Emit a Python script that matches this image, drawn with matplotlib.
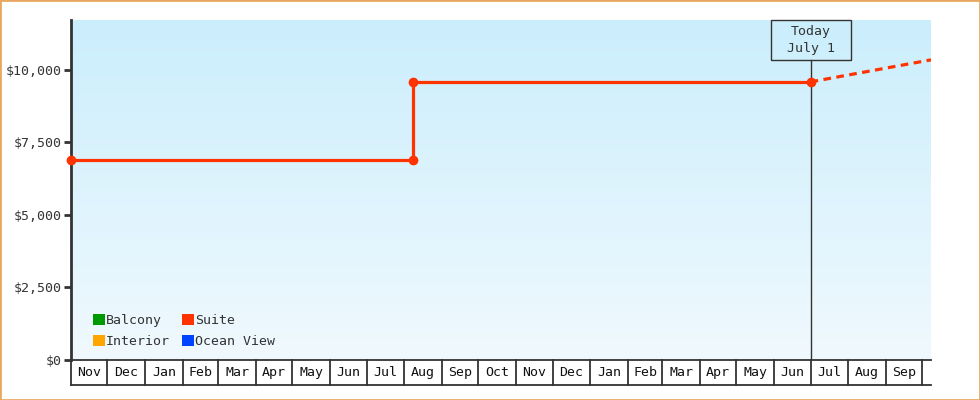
import numpy as np
import pandas as pd
import matplotlib
matplotlib.use("Agg")
import matplotlib.pyplot as plt
import matplotlib.dates as mdates
import matplotlib.transforms as mtransforms
from matplotlib.patches import Rectangle, Patch

# data
suite_dates = ["2023-11-01", "2024-08-08", "2024-08-08", "2025-07-01"]
suite_prices = [6900, 6900, 9590, 9590]
suite_marker_dates = ["2023-11-01", "2024-08-08", "2024-08-08", "2025-07-01"]
suite_marker_prices = [6900, 6900, 9590, 9590]
forecast_dates = ["2025-07-01", "2025-10-08"]
forecast_prices = [9590, 10350]
today = "2025-07-01"
today_label = "Today\nJuly 1"
x_start, x_end = "2023-11-01", "2025-10-08"
month_labels = ["Nov", "Dec", "Jan", "Feb", "Mar", "Apr", "May", "Jun", "Jul", "Aug",
                "Sep", "Oct", "Nov", "Dec", "Jan", "Feb", "Mar", "Apr", "May", "Jun",
                "Jul", "Aug", "Sep"]
y_ticks = [0, 2500, 5000, 7500, 10000]
legend_names = ["Balcony", "Interior", "Suite", "Ocean View"]
legend_colors = ["#009900", "#ffa500", "#ff3300", "#0044ff"]

font = "DejaVu Sans Mono"
ink = "#333333"
red = "#ff3300"

fig = plt.figure(figsize=(9.8, 4), dpi=100)
ax = fig.add_axes([71 / 980, 40 / 400, 860 / 980, 340 / 400])

xs = mdates.date2num(pd.to_datetime(x_start))
xe = mdates.date2num(pd.to_datetime(x_end))
ymax = 11724

# gradient background, light blue at top fading to near white
grad = np.linspace(0, 1, 256).reshape(-1, 1)
top = np.array([203, 238, 252]) / 255
bot = np.array([240, 249, 254]) / 255
img = top + (bot - top) * grad[:, :, None]
ax.imshow(img, extent=[xs, xe, 0, ymax], aspect="auto", zorder=0, origin="upper")
ax.set_xlim(xs, xe)
ax.set_ylim(0, ymax)

# suite line
ax.plot(pd.to_datetime(suite_dates), suite_prices, color=red, lw=2.3, zorder=3,
        solid_capstyle="butt")
ax.plot(pd.to_datetime(suite_marker_dates), suite_marker_prices, "o", color=red,
        ms=6, zorder=4, clip_on=False)
ax.plot(pd.to_datetime(forecast_dates), forecast_prices, color=red, lw=2.3,
        ls=(0, (2.4, 1.7)), zorder=3)

# today marker
blend = mtransforms.blended_transform_factory(ax.transData, ax.transAxes)
td = mdates.date2num(pd.to_datetime(today))
half_w = 40 / (860 / (xe - xs))
box_h = 40 / 340
ax.add_patch(Rectangle((td - half_w, 1 - box_h), 2 * half_w, box_h, transform=blend,
                       fill=False, edgecolor=ink, lw=1, zorder=5, clip_on=False))
ax.plot([td, td], [0, 1 - box_h], transform=blend, color=ink, lw=1, zorder=2)
ax.text(td, 1 - box_h / 2, today_label, transform=blend, ha="center", va="center",
        fontfamily=font, fontsize=9.5, color=ink, linespacing=1.35, zorder=6)

# spines and y ticks
for s in ["top", "right", "bottom"]:
    ax.spines[s].set_visible(False)
ax.spines["left"].set_color(ink)
ax.spines["left"].set_linewidth(2)
ax.set_yticks(y_ticks)
ax.set_yticklabels(["${:,}".format(v) for v in y_ticks], fontfamily=font,
                   fontsize=9.5, color=ink)
ax.tick_params(axis="y", length=5, width=2, color=ink, pad=2)
ax.set_xticks([])

# month boxes under the axis
row_h = 25 / 340
bounds = pd.date_range("2023-11-01", periods=len(month_labels) + 1, freq="MS")
bnums = mdates.date2num(bounds)
ax.plot([xs, xe], [0, 0], transform=blend, color=ink, lw=1.3, clip_on=False, zorder=5)
ax.plot([xs, xe], [-row_h, -row_h], transform=blend, color=ink, lw=1.3, clip_on=False)
for b in bnums:
    if b <= xe:
        ax.plot([b, b], [0, -row_h], transform=blend, color=ink, lw=1.3, clip_on=False)
for i, lab in enumerate(month_labels):
    ax.text((bnums[i] + bnums[i + 1]) / 2, -row_h / 2, lab, transform=blend,
            ha="center", va="center", fontfamily=font, fontsize=9.5, color="#111111")

# legend
handles = [Patch(facecolor=c, edgecolor="none") for c in legend_colors]
leg = ax.legend(handles, legend_names, loc="lower left", ncol=2, frameon=False,
                prop={"family": font, "size": 9.5}, handlelength=0.9, handleheight=0.9,
                handletextpad=0.1, columnspacing=0.9, labelspacing=0.62,
                borderpad=0, borderaxespad=0, bbox_to_anchor=(22 / 860, 12 / 340))
for t in leg.get_texts():
    t.set_color(ink)

# orange frame
fig.patches.append(Rectangle((0, 0), 1, 1, transform=fig.transFigure, fill=False,
                             edgecolor="#e8a860", lw=2))

fig.savefig("out.png", dpi=100)
